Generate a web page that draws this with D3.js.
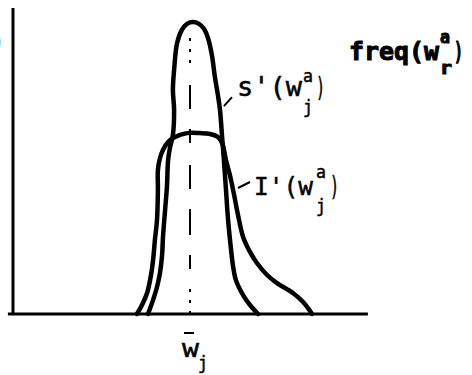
<!DOCTYPE html>
<html>
<head>
<meta charset="utf-8">
<script src="https://cdn.jsdelivr.net/npm/d3@7"></script>
<style>
  html, body { margin: 0; padding: 0; background: #fff; }
  svg { display: block; }
  text { font-family: "DejaVu Sans Mono", monospace; fill: #000; stroke: #000; stroke-width: 0.5; }
</style>
</head>
<body>
<svg id="chart" width="472" height="375"></svg>
<script>
// Deviation from the mean w̄_j (x) and relative frequency (y)
const sPrimeW = [-14, -12.3, -11, -10, -9.3, -9, -8.3, -7.7, -7.3, -6.7, -5.7, -5.3, -5.7, -5.3, -4.3, -2.7, -1, 1, 3, 4.7, 6, 7.3, 8.3, 9.3, 10, 10.7, 11.3, 12, 12.7, 13.7, 14.3, 15.3, 17.7, 20, 22.7];
const sPrimeF = [0, 4.7, 9, 13.7, 19.7, 25.7, 34.7, 42.3, 51.3, 55.3, 59.7, 68, 74.7, 81.3, 90.3, 94.7, 96.7, 97.3, 96.7, 95, 92, 86.3, 79, 73, 68, 59, 51.3, 41.3, 31.3, 21.3, 16.3, 11.3, 6.3, 3, 0];

const iPrimeW = [-17.7, -16, -14.3, -13, -12.3, -11.7, -11, -10.7, -10.7, -10, -9, -7.3, -5, -1, 3.3, 6.7, 9.3, 10.7, 12, 13.3, 14.7, 16, 17.7, 20, 22.3, 25.7, 29, 34.3, 37.7, 40.7];
const iPrimeF = [0, 3, 7, 13, 18, 24.7, 31.3, 41.3, 48, 52, 54.7, 57.3, 59, 60.3, 60.3, 60, 59, 57, 51.3, 46.3, 39.7, 33, 25.7, 20.7, 17, 13, 10.3, 7, 4, 0];

const seriesNames = ["s'", "I'"];
const meanW = 0;

const svg = d3.select("#chart");
const x = d3.scaleLinear().domain([-59, 59]).range([13, 367]);
const y = d3.scaleLinear().domain([0, 100]).range([314, 14]);

const line = d3.line()
  .x(d => x(d[0])).y(d => y(d[1]))
  .curve(d3.curveCatmullRom.alpha(0.5));

// mean dashed line
svg.append("line")
  .attr("x1", x(meanW)).attr("x2", x(meanW))
  .attr("y1", y(92)).attr("y2", y(0))
  .attr("stroke", "#000").attr("stroke-width", 2)
  .attr("stroke-dasharray", "3,8,3,8,3,22,24,20,14,22,24,20,26,20,14,20");

// axes
const xAxis = d3.axisBottom(x).tickValues([]).tickSizeOuter(0);
svg.append("g").attr("transform", `translate(0,${y(0)})`).call(xAxis)
  .call(g => g.select(".domain").attr("d", `M${x(-60.7)},0H${x(59.3)}`).attr("stroke-width", 3));
const yAxis = d3.axisLeft(y).tickValues([]).tickSizeOuter(0);
svg.append("g").attr("transform", `translate(${x(-59)},0)`).call(yAxis)
  .call(g => g.select(".domain").attr("d", `M0,${y(0)}V${y(102)}`).attr("stroke-width", 3));

// curves
const curves = [
  d3.zip(iPrimeW, iPrimeF),
  d3.zip(sPrimeW, sPrimeF)
];
svg.selectAll("path.curve").data(curves).enter().append("path")
  .attr("class", "curve")
  .attr("d", line)
  .attr("fill", "none").attr("stroke", "#000")
  .attr("stroke-width", 4.5)
  .attr("stroke-linejoin", "round").attr("stroke-linecap", "round");

// leader lines
const leaders = [[[11.3, 69.3], [14, 72.3]], [[16, 42], [20, 44]]];
svg.selectAll("line.leader").data(leaders).enter().append("line")
  .attr("class", "leader")
  .attr("x1", d => x(d[0][0])).attr("y1", d => y(d[0][1]))
  .attr("x2", d => x(d[1][0])).attr("y2", d => y(d[1][1]))
  .attr("stroke", "#000").attr("stroke-width", 2);

// one text element per label, pieces as tspans: [text, x, y, size, length]
function label(pieces, bold) {
  const t = svg.append("text");
  if (bold) t.attr("font-weight", "bold").style("stroke-width", 1);
  pieces.forEach(p => {
    const s = t.append("tspan").attr("x", p[1]).attr("y", p[2])
      .attr("font-size", p[3]).text(p[0]);
    if (p[4]) s.attr("textLength", p[4]).attr("lengthAdjust", "spacingAndGlyphs");
  });
  return t;
}

// s'(w_j^a)
label([["s'(w", 237, 96, 26, 65], ["a", 303, 82, 18, 10], ["j", 303, 113, 18, 10], [")", 316, 96, 26, 9]]);
// I'(w_j^a)
label([["I'(w", 254, 195, 25, 59], ["a", 316, 178, 18, 10], ["j", 316, 212, 18, 10], [")", 330, 195, 26, 9]]);
// freq(w_r^a)
label([["freq(w", 349, 60, 24, 90], ["a", 440, 43, 17, 10], ["r", 440, 74, 17, 12], [")", 454, 60, 24, 9]], true);

// w̄_j
svg.append("line").attr("x1", x(meanW) - 6).attr("x2", x(meanW) + 4)
  .attr("y1", 333).attr("y2", 333).attr("stroke", "#000").attr("stroke-width", 2);
label([["w", 182, 357, 24, 17], ["j", 198, 369, 18, 10]]);

// cut-off parenthesis at left edge (as in the reference)
label([[")", -6, 50, 24, 9]]);
</script>
</body>
</html>
